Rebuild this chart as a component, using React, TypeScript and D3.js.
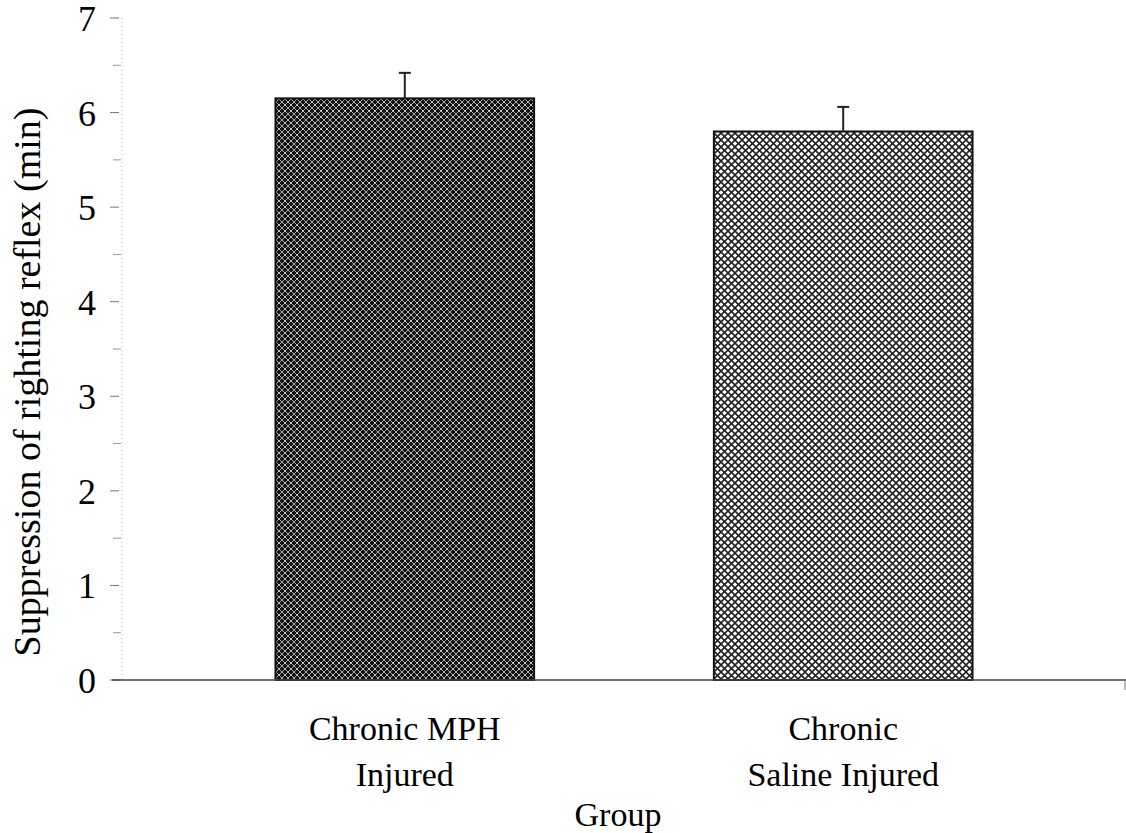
import React from "react";
import * as d3 from "d3";

const groups = ["Chronic MPH|Injured", "Chronic|Saline Injured"];
const means = [6.15, 5.8];
const errors = [0.27, 0.26];
const yTicks = [0, 1, 2, 3, 4, 5, 6, 7];
const patterns = ["darkHatch", "lightHatch"];

const App = () => {
  const width = 1126;
  const height = 833;
  const margin = { top: 18, right: 0, bottom: 153, left: 122 };

  const y = d3.scaleLinear().domain([0, 7]).range([height - margin.bottom, margin.top]);
  const x = d3
    .scaleBand()
    .domain(groups)
    .range([margin.left, width])
    .paddingInner(0.41)
    .paddingOuter(0.35);

  const font = "'Liberation Serif', 'Times New Roman', serif";
  const minor = d3.range(0.5, 7, 1);

  return (
    <svg width={width} height={height} style={{ position: "absolute", left: 0, top: 0, background: "#fff" }}>
      <defs>
        <pattern id="darkHatch" width="6" height="6" patternUnits="userSpaceOnUse">
          <rect width="6" height="6" fill="#111" />
          <path d="M0,0 L6,6 M6,0 L0,6" stroke="#aaa" strokeWidth="1" />
          <rect x="2.5" y="2.5" width="1" height="1" fill="#fff" />
        </pattern>
        <pattern id="lightHatch" width="7" height="7" patternUnits="userSpaceOnUse">
          <rect width="7" height="7" fill="#fff" />
          <path d="M0,0 L7,7 M7,0 L0,7" stroke="#222" strokeWidth="1.6" />
        </pattern>
      </defs>

      {/* y axis, faint dotted */}
      <line x1={margin.left} x2={margin.left} y1={y(7)} y2={y(0)} stroke="#bbb" strokeDasharray="1,3" />
      {yTicks.map((t) => (
        <g key={t}>
          <line x1={110} x2={119} y1={y(t)} y2={y(t)} stroke="#777" />
          <text x={96} y={y(t) + 13} textAnchor="end" fontSize={36} fontFamily={font}>
            {t}
          </text>
        </g>
      ))}
      {minor.map((t) => (
        <line key={t} x1={113} x2={121} y1={y(t)} y2={y(t)} stroke="#999" />
      ))}

      {/* bars */}
      {groups.map((g, i) => (
        <g key={g}>
          <rect
            x={x(g)}
            y={y(means[i])}
            width={x.bandwidth()}
            height={y(0) - y(means[i])}
            fill={`url(#${patterns[i]})`}
            stroke="#111"
            strokeWidth={2}
          />
          <line
            x1={x(g)! + x.bandwidth() / 2}
            x2={x(g)! + x.bandwidth() / 2}
            y1={y(means[i])}
            y2={y(means[i] + errors[i])}
            stroke="#222"
            strokeWidth={2}
          />
          <line
            x1={x(g)! + x.bandwidth() / 2 - 6}
            x2={x(g)! + x.bandwidth() / 2 + 6}
            y1={y(means[i] + errors[i])}
            y2={y(means[i] + errors[i])}
            stroke="#222"
            strokeWidth={2}
          />
          {g.split("|").map((line, j) => (
            <text
              key={j}
              x={x(g)! + x.bandwidth() / 2}
              y={740 + j * 46}
              textAnchor="middle"
              fontSize={34}
              fontFamily={font}
            >
              {line}
            </text>
          ))}
        </g>
      ))}

      {/* x axis */}
      <line x1={112} x2={1126} y1={y(0)} y2={y(0)} stroke="#444" strokeWidth={1.5} />
      <line x1={1125} x2={1125} y1={y(0)} y2={y(0) + 10} stroke="#777" />

      <text x={618} y={826} textAnchor="middle" fontSize={34} fontFamily={font}>
        Group
      </text>
      <text
        transform={`translate(40, ${(y(0) + y(7)) / 2 + 33}) rotate(-90)`}
        textAnchor="middle"
        fontSize={38}
        fontFamily={font}
      >
        Suppression of righting reflex (min)
      </text>
    </svg>
  );
};

export default App;
